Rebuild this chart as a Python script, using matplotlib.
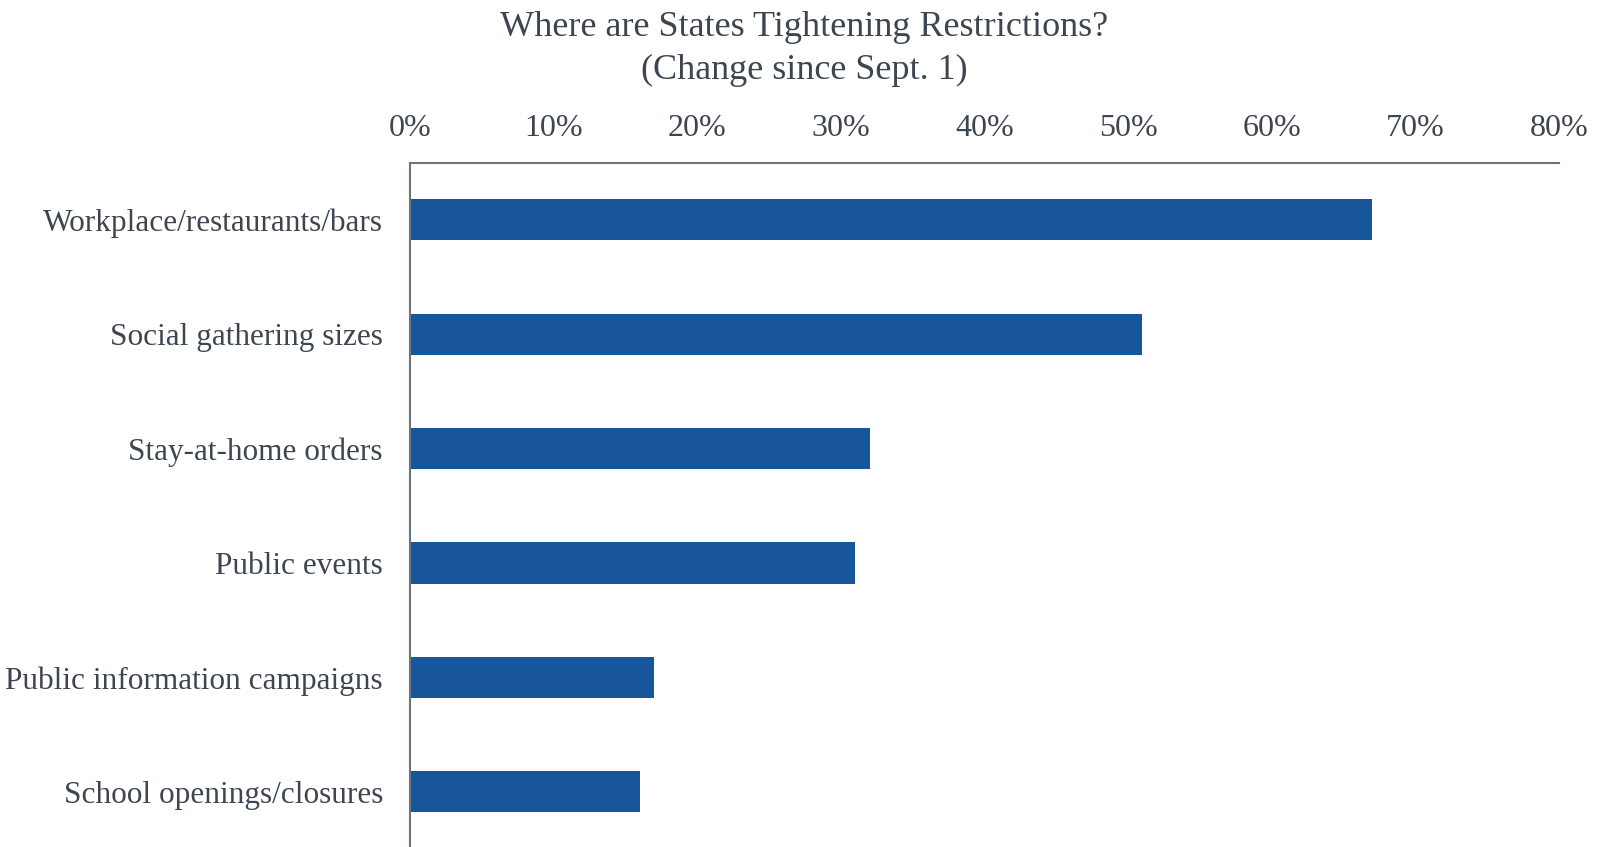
import matplotlib
matplotlib.use("Agg")
import matplotlib.pyplot as plt
from matplotlib.ticker import FuncFormatter

categories = ["Workplace/restaurants/bars", "Social gathering sizes", "Stay-at-home orders",
              "Public events", "Public information campaigns", "School openings/closures"]
values = [67, 51, 32, 31, 17, 16]
xticks = [0, 10, 20, 30, 40, 50, 60, 70, 80]
title_lines = ["Where are States Tightening Restrictions?", "(Change since Sept. 1)"]

plt.rcParams['font.family'] = ['Liberation Serif', 'DejaVu Serif']
text_color = "#3d4550"
bar_color = "#17569b"
spine_color = "#6b7480"

fig = plt.figure(figsize=(16, 8.47), dpi=100)
ax = fig.add_axes([0.25625, -0.0024, 0.718125, 0.8103])

ypos = list(range(len(categories)))
ax.barh(ypos, values, height=0.36, color=bar_color)
ax.set_ylim(len(categories) - 0.5, -0.5)
ax.set_xlim(0, 80)
ax.set_yticks(ypos)
ax.set_yticklabels(categories)
ax.set_xticks(xticks)
ax.xaxis.set_major_formatter(FuncFormatter(lambda v, p: f"{int(v)}%"))
ax.xaxis.tick_top()
ax.tick_params(axis='x', length=0, pad=14.5, labelsize=23, labelcolor=text_color)
ax.tick_params(axis='y', length=0, pad=19.5, labelsize=22.5, labelcolor=text_color)
for s in ["right", "bottom"]:
    ax.spines[s].set_visible(False)
for s in ["top", "left"]:
    ax.spines[s].set_color(spine_color)
    ax.spines[s].set_linewidth(1.5)

fig.text(0.5025, 0.968, title_lines[0], ha='center', va='center', fontsize=26, color=text_color)
fig.text(0.5025, 0.9165, title_lines[1], ha='center', va='center', fontsize=26, color=text_color)

fig.savefig("out.png", dpi=100)
